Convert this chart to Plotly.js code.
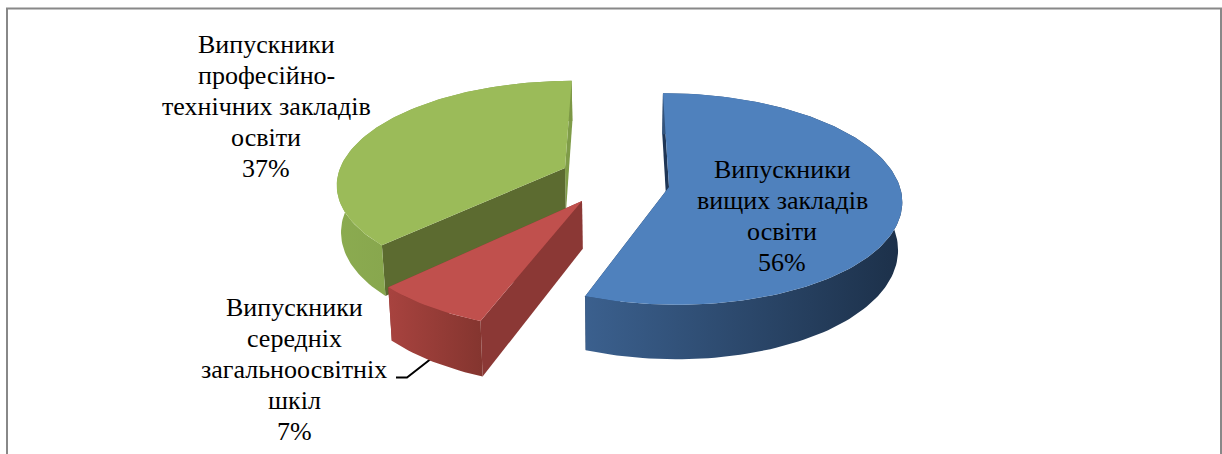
<!DOCTYPE html>
<html><head><meta charset="utf-8">
<style>html,body{margin:0;padding:0;background:#fff;overflow:hidden}#chart{width:1222px;height:454px}</style>
<script src="https://cdn.plot.ly/plotly-3.0.1.min.js"></script></head>
<body><div id="chart"></div>
<script>
// Data
const categories = ["Випускники вищих закладів освіти", "Випускники середніх загальноосвітніх шкіл", "Випускники професійно-технічних закладів освіти"];
const shares = [55.6, 7.0, 37.4];
const labelLines = [
  ["Випускники", "вищих закладів", "освіти"],
  ["Випускники", "середніх", "загальноосвітніх", "шкіл"],
  ["Випускники", "професійно-", "технічних закладів", "освіти"]
];

// Styling and geometry of the projected 3-D pie
const topColors = ["#4f81bd", "#c0504d", "#9bbb59"];
const startFace = ["#1f3656", "#8b3835", "#5c6b30"];
const endFace = ["#1f3656", "#8b3835", "#7f9c48"];
const rimGrad = [["#3b608e", "#1c3049"], ["#a8433f", "#84352f"], ["#8bab50", "#7c9745"]];
const apexPx = [[669, 187], [582, 201], [565, 168]];
const rimLift = [3, 0, 0];
const radius = [1, 1.015, 1];
const labelTop = [[782, 170], [294, 308], [266, 45]];
const lineStep = 31.2;
const cx = 620, cy = 178, A = 228, B = 102, k = 0.14, D = 46.5, bottomShrink = 0.985;

const proj = (U, V, z) => {
  const s = 1 / (1 - k * V);
  let x = cx + A * U * s, y = cy + B * V * s;
  if (z) { x = cx + (x - cx) * bottomShrink; y += D * s; }
  return [x, y];
};
const unproj = ([x, y]) => {
  const dy = y - cy, V = dy / (B + k * dy);
  return [(x - cx) * (1 - k * V) / A, V];
};
const poly = (pts, color, name) => ({
  x: pts.map(p => p[0]), y: pts.map(p => p[1]), type: "scatter", mode: "lines",
  fill: "toself", fillcolor: color, line: {width: 0}, hoverinfo: "skip", showlegend: false, name
});

const total = shares.reduce((a, b) => a + b, 0);
const traces = [];
const bounds = []; let acc = 0;
shares.forEach(v => { bounds.push([acc / total * 2 * Math.PI, (acc + v) / total * 2 * Math.PI]); acc += v; });

[2, 1, 0].forEach(i => {
  const [U0, V0] = unproj(apexPx[i]);
  const [Uc, Vc] = unproj([apexPx[i][0], apexPx[i][1] - rimLift[i]]);
  const [a0, a1] = bounds[i];
  const R = radius[i];
  const n = Math.max(8, Math.round((a1 - a0) * 40));
  const rim = z => { const r = []; for (let j = 0; j <= n; j++) { const t = a0 + (a1 - a0) * j / n; r.push(proj(Uc + R * Math.sin(t), Vc - R * Math.cos(t), z)); } return r; };
  const top = rim(false), bot = rim(true);
  const ap = proj(U0, V0, false), apB = proj(U0, V0, true);
  traces.push(poly([ap, top[n], bot[n], apB, ap], endFace[i], categories[i]));
  traces.push(poly([ap, top[0], bot[0], apB, ap], startFace[i], categories[i]));
  const side = poly(top.concat(bot.slice().reverse()).concat([top[0]]), topColors[i], categories[i]);
  delete side.fillcolor;
  side.fillgradient = {type: "horizontal", colorscale: [[0, rimGrad[i][0]], [1, rimGrad[i][1]]]};
  traces.push(side);
  traces.push(poly([ap].concat(top).concat([ap]), topColors[i], categories[i]));
});

const annotations = [];
labelLines.forEach((ls, i) => {
  ls.concat([Math.round(shares[i] / total * 100) + "%"]).forEach((t, j) => {
    annotations.push({
      text: t, x: labelTop[i][0], y: labelTop[i][1] + j * lineStep - 1, xref: "x", yref: "y",
      xanchor: "center", yanchor: "middle", showarrow: false, align: "center",
      font: {family: "'Liberation Serif', 'Times New Roman', serif", size: 26, color: "#000"}
    });
  });
});

const shapes = [
  {type: "path", path: "M7,454 L7,8.5 L1221,8.5 L1221,454", line: {color: "#888888", width: 2}, xref: "x", yref: "y"},
  {type: "path", path: "M396,377.5 L407,377.5 L432,358", line: {color: "#000", width: 2}, xref: "x", yref: "y", layer: "below"}
];

Plotly.newPlot("chart", traces, {
  width: 1222, height: 454, margin: {l: 0, r: 0, t: 0, b: 0},
  paper_bgcolor: "#fff", plot_bgcolor: "#fff", showlegend: false,
  xaxis: {range: [0, 1222], visible: false, fixedrange: true},
  yaxis: {range: [454, 0], visible: false, fixedrange: true},
  annotations, shapes
}, {staticPlot: true, displayModeBar: false});
</script></body></html>
